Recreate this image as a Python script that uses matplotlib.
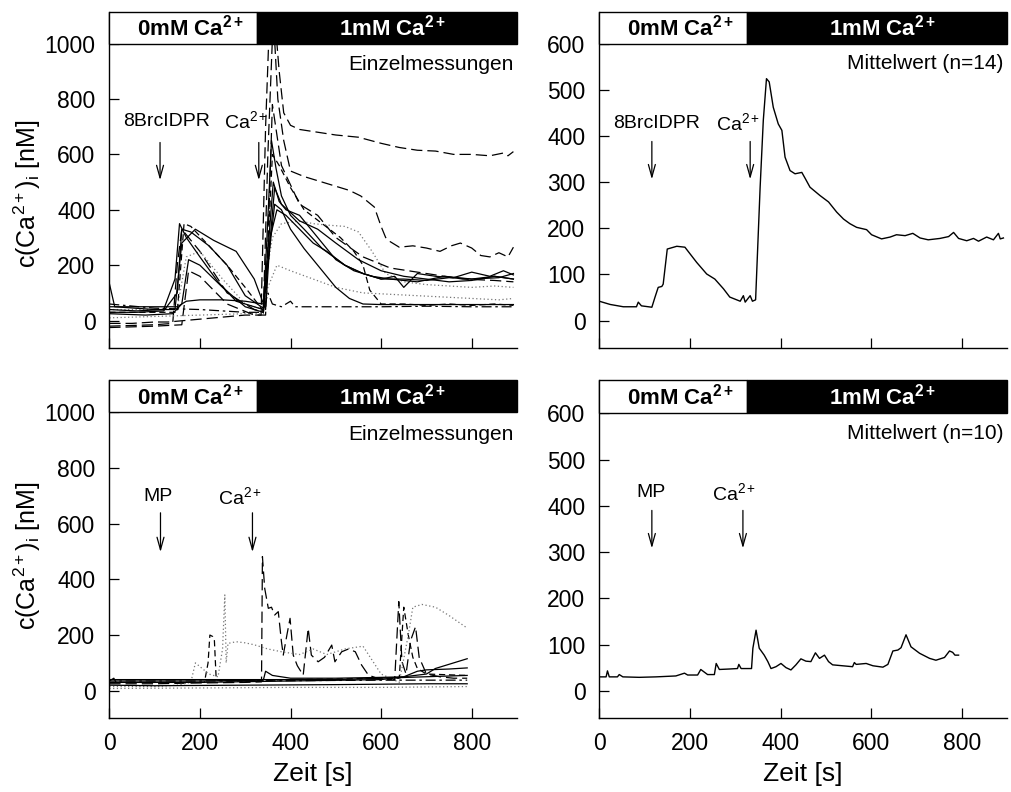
import matplotlib
matplotlib.use("Agg")
import matplotlib.pyplot as plt
from matplotlib.patches import Rectangle

plt.rcParams['font.family'] = ['Liberation Sans', 'DejaVu Sans']
plt.rcParams['mathtext.fontset'] = 'custom'
plt.rcParams['mathtext.rm'] = 'Liberation Sans'
plt.rcParams['mathtext.it'] = 'Liberation Sans:italic'
plt.rcParams['mathtext.bf'] = 'Liberation Sans:bold'

# ---------------- data ----------------
xticks = [0, 200, 400, 600, 800]
yticks_left = [0, 200, 400, 600, 800, 1000]
yticks_right = [0, 100, 200, 300, 400, 500, 600]
switch_time = 327

# top-right mean (n=14)
tr_t = [0, 24, 53, 82, 86, 93, 116, 123, 130, 138, 141, 150, 171, 189, 200, 215, 237, 255, 274, 288,
        311, 318, 322, 333, 338, 345, 355, 362, 369, 375, 384, 395, 403, 410, 421, 432, 447, 455, 465,
        487, 506, 524, 539, 553, 568, 590, 601, 623, 642, 656, 675, 692, 708, 726, 752, 771, 782, 793,
        811, 826, 837, 855, 870, 881, 885, 892]
tr_y = [42, 35, 30, 30, 40, 32, 29, 51, 72, 74, 79, 155, 161, 159, 145, 126, 101, 90, 69, 51,
        42, 54, 40, 54, 42, 45, 289, 434, 524, 517, 462, 426, 412, 354, 325, 318, 321, 307, 289,
        271, 257, 235, 220, 210, 202, 197, 186, 177, 181, 186, 184, 189, 179, 175, 178, 182, 191, 178,
        173, 178, 172, 181, 175, 189, 177, 179]

# bottom-right mean (n=10)
br_t = [0, 15, 18, 22, 40, 44, 52, 88, 125, 169, 188, 195, 217, 224, 239, 254, 258, 265, 287, 305,
        308, 313, 336, 339, 346, 353, 364, 372, 379, 390, 401, 412, 423, 434, 445, 456, 467, 477, 486,
        497, 506, 515, 537, 559, 563, 567, 589, 604, 626, 637, 648, 659, 666, 677, 688, 707, 729, 743,
        762, 773, 780, 785, 793]
br_y = [30, 30, 43, 30, 30, 35, 30, 29, 30, 32, 38, 34, 34, 46, 35, 35, 59, 46, 47, 48,
        57, 48, 48, 92, 131, 92, 77, 63, 48, 52, 59, 50, 45, 56, 69, 64, 63, 82, 70,
        77, 63, 56, 54, 52, 61, 57, 59, 54, 51, 57, 86, 88, 93, 121, 95, 81, 70, 66,
        72, 86, 83, 77, 77]

# top-left single traces
tl_a_t = [0, 50, 100, 130, 300, 335, 345, 355, 365, 375, 385, 400, 420, 460, 500, 550, 600, 640, 680, 720, 760, 800, 840, 870, 880, 892]
tl_a_y = [-10, -10, -5, -5, 20, 20, 700, 1150, 1100, 900, 750, 705, 690, 680, 670, 662, 640, 625, 615, 612, 600, 600, 595, 605, 595, 610]

tl_b_t = [0, 100, 140, 150, 160, 200, 260, 320, 340, 350, 362, 372, 385, 400, 430, 460, 500, 530, 555, 585, 600, 610, 620, 640, 670, 700, 730, 755, 775, 800, 820, 840, 860, 880, 892]
tl_b_y = [-20, -15, -10, 200, 330, 250, 100, 40, 30, 600, 1100, 800, 650, 540, 520, 505, 485, 470, 450, 410, 340, 300, 285, 265, 270, 262, 250, 270, 280, 262, 235, 230, 245, 230, 265]

tl_c_t = [0, 100, 150, 170, 200, 250, 300, 340, 350, 360, 380, 420, 450, 480, 520, 550, 580, 610, 650, 700, 750, 800, 850, 892]
tl_c_y = [40, 40, 45, 230, 250, 150, 60, 40, 200, 300, 350, 360, 350, 345, 340, 320, 250, 170, 140, 130, 125, 120, 125, 120]

tl_d_t = [0, 100, 200, 300, 340, 350, 370, 400, 450, 500, 560, 620, 680, 740, 800, 860, 892]
tl_d_y = [10, 15, 20, 25, 25, 120, 200, 180, 150, 120, 100, 95, 90, 85, 80, 75, 80]

tl_e_t = [0, 60, 120, 145, 155, 170, 200, 240, 280, 320, 340, 348, 358, 368, 380, 400, 430, 470, 520, 560, 600, 650, 700, 750, 800, 850, 892]
tl_e_y = [40, 35, 40, 150, 350, 300, 230, 140, 70, 50, 40, 300, 650, 550, 450, 380, 330, 260, 200, 170, 150, 150, 145, 155, 150, 160, 150]

tl_f_t = [0, 60, 120, 150, 160, 180, 220, 260, 300, 340, 350, 362, 375, 390, 420, 460, 500, 540, 580, 620, 680, 740, 800, 860, 892]
tl_f_y = [30, 30, 35, 100, 330, 320, 270, 200, 90, 45, 250, 500, 430, 400, 380, 300, 220, 180, 160, 150, 140, 160, 150, 155, 170]

tl_g_t = [0, 80, 140, 160, 175, 200, 250, 300, 340, 350, 365, 380, 400, 430, 460, 500, 530, 560, 600, 700, 800, 892]
tl_g_y = [25, 20, 25, 60, 220, 200, 120, 50, 30, 200, 420, 400, 330, 260, 200, 120, 80, 60, 58, 58, 58, 58]

tl_h_t = [0, 100, 150, 170, 200, 250, 300, 340, 350, 365, 380, 420, 460, 500, 550, 600, 650, 700, 750, 800, 850, 892]
tl_h_y = [50, 50, 50, 70, 75, 75, 70, 60, 200, 480, 420, 360, 330, 280, 220, 180, 160, 150, 140, 145, 160, 150]

tl_i_t = [0, 100, 200, 300, 340, 350, 360, 380, 400, 410, 500, 600, 700, 800, 892]
tl_i_y = [60, 45, 40, 30, 30, 100, 60, 50, 70, 50, 50, 50, 52, 50, 50]

tl_j_t = [0, 12, 100, 145, 160, 190, 230, 280, 320, 345, 355, 370, 390, 420, 450, 480, 520, 560, 600, 630, 650, 680, 720, 760, 800, 840, 870, 892]
tl_j_y = [135, 50, 40, 40, 280, 330, 290, 250, 150, 40, 300, 400, 380, 330, 280, 250, 200, 170, 150, 160, 120, 170, 160, 155, 175, 160, 180, 165]

tl_k_t = [0, 100, 150, 165, 180, 220, 260, 300, 340, 350, 360, 375, 400, 430, 470, 510, 540, 560, 575, 600, 650, 700, 750, 800, 850, 892]
tl_k_y = [30, 30, 30, 350, 340, 270, 200, 120, 35, 250, 600, 560, 480, 400, 350, 300, 250, 200, 110, 60, 60, 55, 60, 55, 60, 55]

tl_l_t = [0, 100, 160, 175, 200, 260, 320, 345, 360, 380, 420, 460, 500, 560, 620, 700, 780, 850, 892]
tl_l_y = [-25, -20, -15, 180, 160, 60, 20, 20, 780, 560, 420, 380, 300, 230, 190, 170, 150, 145, 140]

# bottom-left single traces
bl_a_t = [0, 100, 200, 300, 336, 338, 343, 351, 358, 365, 373, 380, 384, 392, 399, 406, 415, 428, 439, 446, 461, 475, 491, 498, 513, 528, 543, 557, 572, 600, 630, 639, 646, 655, 665, 676, 684, 700, 730, 760, 790]
bl_a_y = [25, 25, 28, 30, 32, 482, 368, 296, 300, 272, 284, 176, 128, 200, 260, 128, 90, 56, 224, 128, 104, 120, 164, 104, 140, 150, 140, 92, 56, 40, 40, 320, 104, 60, 180, 230, 120, 60, 50, 45, 45]

bl_b_t = [0, 150, 210, 218, 222, 228, 232, 236, 250, 300, 400, 500, 600, 640, 650, 655, 660, 670, 680, 700, 790]
bl_b_y = [30, 30, 30, 100, 200, 195, 180, 40, 35, 35, 40, 42, 45, 45, 300, 250, 200, 120, 80, 60, 55]

bl_c_t = [0, 100, 150, 180, 190, 220, 240, 250, 255, 258, 262, 280, 300, 320, 350, 380, 420, 450, 480, 520, 560, 600, 640, 660, 670, 690, 720, 750, 790]
bl_c_y = [15, 15, 20, 30, 100, 60, 50, 150, 344, 100, 170, 176, 172, 165, 150, 140, 130, 150, 130, 150, 160, 60, 30, 200, 300, 310, 300, 270, 225]

bl_d_t = [0, 200, 400, 600, 790]
bl_d_y = [8, 10, 12, 12, 15]

bl_e_t = [0, 200, 340, 345, 360, 400, 500, 600, 650, 700, 720, 750, 790]
bl_e_y = [35, 35, 38, 70, 55, 45, 45, 48, 50, 60, 80, 95, 115]

bl_f_t = [0, 200, 400, 600, 650, 680, 700, 750, 790]
bl_f_y = [30, 30, 35, 40, 50, 70, 75, 78, 82]

bl_g_t = [0, 300, 500, 600, 790]
bl_g_y = [40, 40, 40, 45, 55]

bl_h_t = [0, 100, 300, 500, 700, 790]
bl_h_y = [20, 18, 20, 22, 25, 25]

bl_i_t = [0, 10, 15, 20, 200, 400, 600, 790]
bl_i_y = [35, 45, 30, 35, 35, 36, 38, 38]

# ---------------- figure ----------------
fig = plt.figure(figsize=(10.12, 7.92), dpi=100)
ax_tl = fig.add_axes([0.108, 0.5602, 0.4029, 0.4250])
ax_tr = fig.add_axes([0.5922, 0.5602, 0.4029, 0.4250])
ax_bl = fig.add_axes([0.108, 0.0934, 0.4029, 0.4268])
ax_br = fig.add_axes([0.5922, 0.0934, 0.4029, 0.4268])

dash = (0, (9, 4))
dash_s = (0, (5, 3))
dashdot = (0, (8, 3, 2, 3))
dot = (0, (1, 2))

tl_traces = [
    (tl_a_t, tl_a_y, dash, 'black'),
    (tl_b_t, tl_b_y, dash, 'black'),
    (tl_c_t, tl_c_y, dot, '#777777'),
    (tl_d_t, tl_d_y, dot, '#777777'),
    (tl_e_t, tl_e_y, '-', 'black'),
    (tl_f_t, tl_f_y, '-', 'black'),
    (tl_g_t, tl_g_y, '-', 'black'),
    (tl_h_t, tl_h_y, '-', 'black'),
    (tl_i_t, tl_i_y, dashdot, 'black'),
    (tl_j_t, tl_j_y, '-', 'black'),
    (tl_k_t, tl_k_y, dash_s, 'black'),
    (tl_l_t, tl_l_y, dash, 'black'),
]
for t, y, ls, c in tl_traces:
    ax_tl.plot(t, y, ls=ls, color=c, lw=0.9)

bl_traces = [
    (bl_a_t, bl_a_y, dash, 'black'),
    (bl_b_t, bl_b_y, dash_s, 'black'),
    (bl_c_t, bl_c_y, dot, '#777777'),
    (bl_d_t, bl_d_y, dot, '#777777'),
    (bl_e_t, bl_e_y, '-', 'black'),
    (bl_f_t, bl_f_y, '-', 'black'),
    (bl_g_t, bl_g_y, '-', 'black'),
    (bl_h_t, bl_h_y, '-', 'black'),
    (bl_i_t, bl_i_y, dashdot, 'black'),
]
for t, y, ls, c in bl_traces:
    ax_bl.plot(t, y, ls=ls, color=c, lw=0.9)

ax_tr.plot(tr_t, tr_y, color='black', lw=1.0)
ax_br.plot(br_t, br_y, color='black', lw=1.0)

ylab = r'c(Ca$^{2+}$)$_{\rm i}$ [nM]'

panels = [
    (ax_tl, (-100, 1115), 1000, yticks_left, 'Einzelmessungen', 924, 'left', False, 0.46),
    (ax_tr, (-60, 669), 600, yticks_right, 'Mittelwert (n=14)', 557, 'right', False, None),
    (ax_bl, (-98, 1116), 1000, yticks_left, 'Einzelmessungen', 919, 'left', True, 0.48),
    (ax_br, (-59, 672), 600, yticks_right, 'Mittelwert (n=10)', 556, 'right', True, None),
]
for ax, ylim, bar_bottom, yt, label, label_y, side, xlab, ylab_pos in panels:
    ax.set_xlim(0, 900)
    ax.set_ylim(*ylim)
    ax.set_xticks(xticks)
    ax.set_yticks(yt)
    for s in ['top', 'right']:
        ax.spines[s].set_visible(False)
    for s in ['left', 'bottom']:
        ax.spines[s].set_linewidth(1.0)
    ax.tick_params(direction='in', length=7.5, width=0.9, labelsize=16.5, pad=10)
    if not xlab:
        ax.tick_params(axis='x', labelbottom=False)
    top = ylim[1]
    ax.add_patch(Rectangle((0, bar_bottom), switch_time, top - bar_bottom,
                           facecolor='white', edgecolor='black', lw=1.0, zorder=5, clip_on=False))
    ax.add_patch(Rectangle((switch_time, bar_bottom), 900 - switch_time, top - bar_bottom,
                           facecolor='black', edgecolor='black', lw=1.0, zorder=5, clip_on=False))
    ymid = (bar_bottom + top) / 2
    ax.text(180, ymid, r'$\mathbf{0mM\ Ca^{2+}}$', ha='center', va='center', fontsize=16,
            color='black', zorder=6)
    ax.text(626, ymid, r'$\mathbf{1mM\ Ca^{2+}}$', ha='center', va='center', fontsize=16,
            color='white', zorder=6)
    ax.text(893, label_y, label, ha='right', va='center', fontsize=15)
    if side == 'left':
        ax.set_ylabel(ylab, fontsize=18)
        ax.yaxis.set_label_coords(-0.163, ylab_pos)
    if xlab:
        ax.set_xlabel('Zeit [s]', fontsize=19, labelpad=5)

arrow_style = dict(arrowstyle='->,head_length=0.9,head_width=0.25', lw=0.9, color='black')

def arrow(ax, x, y0, y1):
    ax.annotate('', xy=(x, y1), xytext=(x, y0), arrowprops=arrow_style)

# top-left
ax_tl.text(127, 719, '8BrcIDPR', ha='center', va='center', fontsize=14)
ax_tl.text(303, 719, r'Ca$^{2+}$', ha='center', va='center', fontsize=14)
arrow(ax_tl, 112, 653, 497)
arrow(ax_tl, 330, 653, 497)
# top-right
ax_tr.text(127, 427, '8BrcIDPR', ha='center', va='center', fontsize=14)
ax_tr.text(306, 427, r'Ca$^{2+}$', ha='center', va='center', fontsize=14)
arrow(ax_tr, 116, 394, 300)
arrow(ax_tr, 333, 394, 300)
# bottom-left
ax_bl.text(108, 697, 'MP', ha='center', va='center', fontsize=14)
ax_bl.text(289, 697, r'Ca$^{2+}$', ha='center', va='center', fontsize=14)
arrow(ax_bl, 113, 649, 488)
arrow(ax_bl, 316, 649, 488)
# bottom-right
ax_br.text(114, 428, 'MP', ha='center', va='center', fontsize=14)
ax_br.text(298, 428, r'Ca$^{2+}$', ha='center', va='center', fontsize=14)
arrow(ax_br, 116, 396, 302)
arrow(ax_br, 317, 396, 302)

fig.savefig('out.png', dpi=100)
